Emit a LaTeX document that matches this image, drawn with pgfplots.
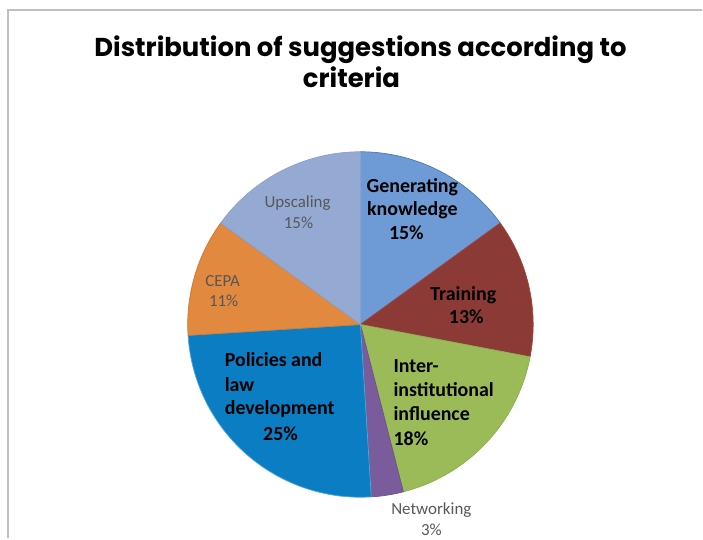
\documentclass[border=0pt]{standalone}
\usepackage{fontspec}
\setmainfont{Carlito}
\newfontfamily\titlefont{Poppins}
\usepackage{pgfplots}
\pgfplotsset{compat=1.18}

\definecolor{cGK}{HTML}{6E9BD6}
\definecolor{cGKb}{HTML}{4C78B5}
\definecolor{cTR}{HTML}{8C3A36}
\definecolor{cTRb}{HTML}{A8443E}
\definecolor{cIN}{HTML}{9BBB59}
\definecolor{cINb}{HTML}{8DAE4E}
\definecolor{cNE}{HTML}{7A5C9C}
\definecolor{cNEb}{HTML}{6E528E}
\definecolor{cPO}{HTML}{0B7DC2}
\definecolor{cPOb}{HTML}{4FA9D6}
\definecolor{cCE}{HTML}{E0893F}
\definecolor{cCEb}{HTML}{D07A33}
\definecolor{cUP}{HTML}{95AAD3}
\definecolor{cUPb}{HTML}{8A9FCA}
\definecolor{frameg}{HTML}{BFBFBF}
\definecolor{lblg}{HTML}{575757}

% slice: start angle (deg, counter-clockwise from 3 o'clock), percentage, fill, border
\newcommand{\slice}[4]{%
  \addplot[fill=#3, draw=#4, line width=0.7pt, domain={#1-3.6*#2}:{#1}, samples=90, variable=\t]
    ({361+173*cos(\t)},{325-173*sin(\t)}) -- (axis cs:361,325) -- cycle;}

\begin{document}
\begin{tikzpicture}
\begin{axis}[hide axis, scale only axis, width=703bp, height=539bp,
  xmin=0, xmax=703, ymin=0, ymax=539, y dir=reverse, clip=false]
\path (axis cs:0,0) rectangle (axis cs:703,539);
\addplot[frameg, line width=2.2pt] coordinates {(8,539) (8,10) (703,10)};

% percentages, clockwise from 12 o'clock:
% Generating knowledge 15, Training 13, Inter-institutional influence 18,
% Networking 3, Policies and law development 25, CEPA 11, Upscaling 15
\slice{90}{15}{cGK}{cGKb}
\slice{36}{13}{cTR}{cTRb}
\slice{-10.8}{18}{cIN}{cINb}
\slice{-75.6}{3}{cNE}{cNEb}
\slice{-86.4}{25}{cPO}{cPOb}
\slice{-176.4}{11}{cCE}{cCEb}
\slice{-216}{15}{cUP}{cUPb}

% title
\node[anchor=base, font=\titlefont\bfseries\fontsize{26}{31}\selectfont] at (axis cs:361,57) {Distribution of suggestions according to};
\node[anchor=base, font=\titlefont\bfseries\fontsize{26}{31}\selectfont] at (axis cs:352,88) {criteria};

% bold labels
\begin{scope}[every node/.style={font=\bfseries\fontsize{20}{24}\selectfont, text=black, inner sep=0pt}]
\node[anchor=base] at (axis cs:413,193) {Generating};
\node[anchor=base] at (axis cs:413,216) {knowledge};
\node[anchor=base] at (axis cs:407,240) {15\%};
\node[anchor=base] at (axis cs:464,301) {Training};
\node[anchor=base] at (axis cs:467,324) {13\%};
\node[anchor=base west] at (axis cs:394,373) {Inter-};
\node[anchor=base west] at (axis cs:394,397) {institutional};
\node[anchor=base west] at (axis cs:394,421) {influence};
\node[anchor=base west] at (axis cs:394,446) {18\%};
\node[anchor=base west] at (axis cs:225,367) {Policies and};
\node[anchor=base west] at (axis cs:225,392) {law};
\node[anchor=base west] at (axis cs:225,415) {development};
\node[anchor=base] at (axis cs:281,441) {25\%};
\end{scope}

% grey labels
\begin{scope}[every node/.style={font=\fontsize{17}{21}\selectfont, text=lblg, inner sep=0pt, anchor=base}]
\node at (axis cs:298,208) {Upscaling};
\node at (axis cs:299,229) {15\%};
\node at (axis cs:223,287) {CEPA};
\node at (axis cs:224,307) {11\%};
\node at (axis cs:432,515) {Networking};
\node at (axis cs:432,536) {3\%};
\end{scope}
\end{axis}
\end{tikzpicture}
\end{document}
